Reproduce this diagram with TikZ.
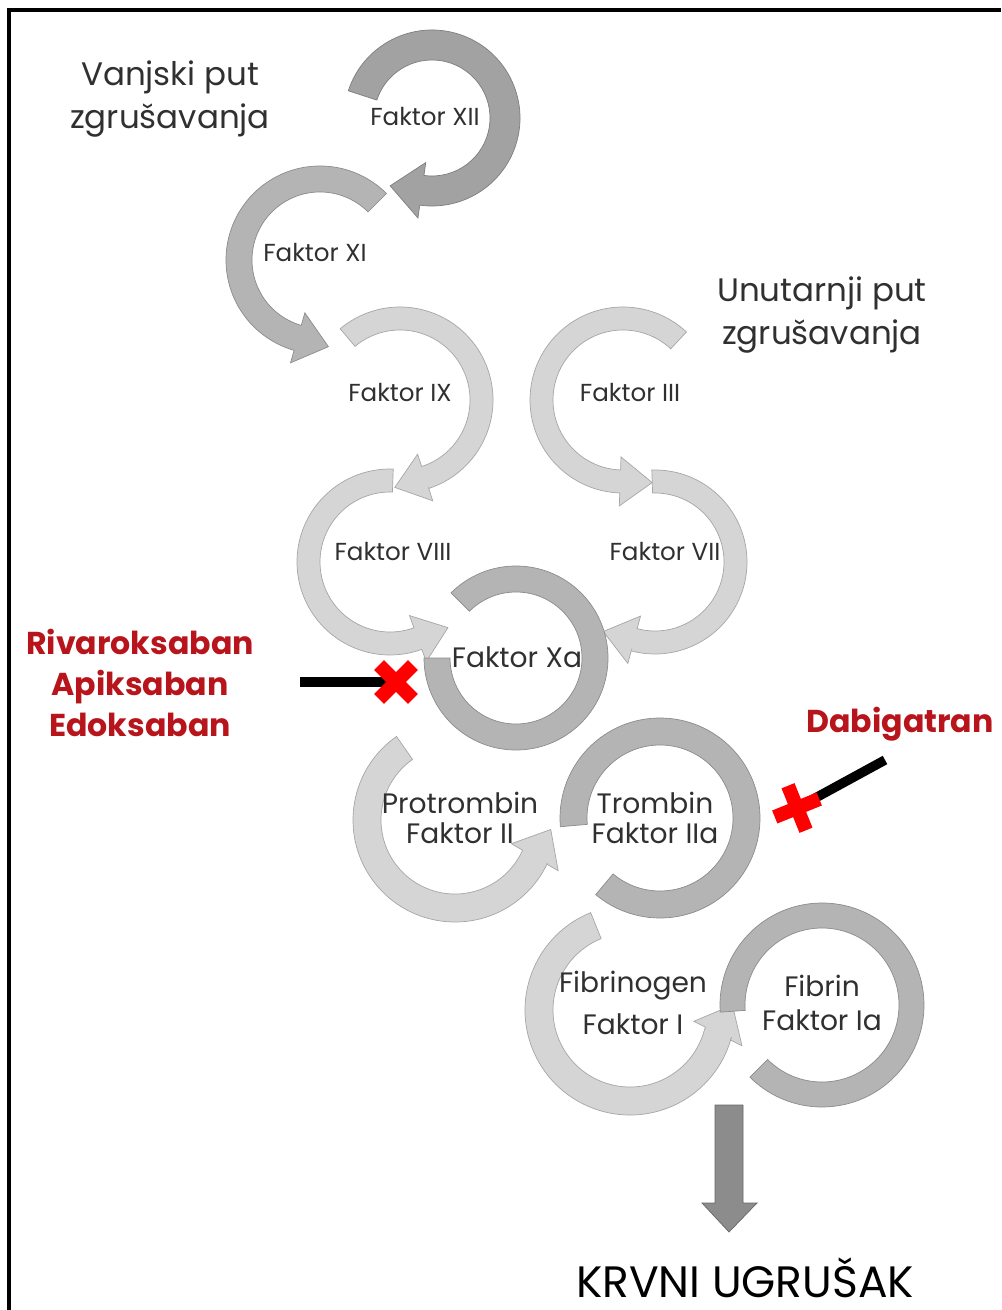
\documentclass[tikz,border=0pt]{standalone}
\usepackage{fontspec}
\setmainfont{Poppins}
\usepackage{tikz}
\usetikzlibrary{calc}

\definecolor{ringdark}{HTML}{A2A2A2}
\definecolor{ringmid}{HTML}{B4B4B4}
\definecolor{ringlight}{HTML}{D5D5D5}
\definecolor{ringXa}{HTML}{B4B4B4}
\definecolor{drugred}{HTML}{B8141C}
\definecolor{labelgray}{HTML}{303030}

% ring with arrow head: centre, r in, r out, start, end, dir (1 ccw / -1 cw), colour, straight part, turn of head
\newcommand{\ringarrow}[9]{%
  \pgfmathsetmacro{\rmid}{(#2+#3)/2}%
  \pgfmathsetmacro{\hb}{(#3-#2)/2}%
  \pgfmathsetmacro{\hw}{(#3-#2)/2+13}%
  \pgfmathsetmacro{\ta}{#5+#6*90+#9}%
  \pgfmathsetmacro{\na}{\ta-#6*90}%
  \pgfmathsetmacro{\mx}{\rmid*cos(#5)+#8*cos(\ta)}%
  \pgfmathsetmacro{\my}{\rmid*sin(#5)+#8*sin(\ta)}%
  \pgfmathsetmacro{\pox}{\mx+\hb*cos(\na)}\pgfmathsetmacro{\poy}{\my+\hb*sin(\na)}%
  \pgfmathsetmacro{\pix}{\mx-\hb*cos(\na)}\pgfmathsetmacro{\piy}{\my-\hb*sin(\na)}%
  \pgfmathsetmacro{\wox}{\mx+\hw*cos(\na)}\pgfmathsetmacro{\woy}{\my+\hw*sin(\na)}%
  \pgfmathsetmacro{\wix}{\mx-\hw*cos(\na)}\pgfmathsetmacro{\wiy}{\my-\hw*sin(\na)}%
  \pgfmathsetmacro{\tipx}{\mx+32*cos(\ta)}\pgfmathsetmacro{\tipy}{\my+32*sin(\ta)}%
  \filldraw[fill=#7, draw=#7!78!black, line width=0.4pt, shift={(#1)}]
    (#4:#3) arc[start angle=#4, end angle=#5, radius=#3]
    -- (\pox,\poy) -- (\wox,\woy) -- (\tipx,\tipy) -- (\wix,\wiy) -- (\pix,\piy) -- (#5:#2)
    arc[start angle=#5, end angle=#4, radius=#2] -- cycle;
}
% ring without arrow head: centre, r in, r out, start, end, colour
\newcommand{\ringband}[6]{%
  \filldraw[fill=#6, draw=#6!78!black, line width=0.4pt, shift={(#1)}]
    (#4:#3) arc[start angle=#4, end angle=#5, radius=#3]
    -- (#5:#2) arc[start angle=#5, end angle=#4, radius=#2] -- cycle;
}

\tikzset{xmark/.pic={\draw[red, line width=0.28cm] (-24,0) -- (24,0) (0,-24) -- (0,24);}}

\begin{document}
\begin{tikzpicture}[x=0.02cm, y=0.02cm,
    factor/.style={text=labelgray, align=center, inner sep=0pt, font=\fontsize{14}{17}\selectfont},
    bigfactor/.style={text=labelgray, align=center, inner sep=0pt, font=\fontsize{16}{17}\selectfont},
    pathway/.style={text=labelgray, align=center, inner sep=0pt, font=\fontsize{18.5}{24}\selectfont},
    drug/.style={text=drugred, align=center, inner sep=0pt, font=\bfseries\fontsize{18}{23.5}\selectfont},
    inhib/.style={line width=0.19cm, black}]
  \useasboundingbox (0,0) rectangle (1001,-1310);
  \draw[line width=0.08cm] (9,-1310) -- (9,-10) -- (1001,-10); % frame

  \coordinate (cXII) at (432,-118);
  \coordinate (cXI) at (320,-260);
  \coordinate (cIX) at (400,-400);
  \coordinate (cIII) at (623,-400);
  \coordinate (cVIII) at (390,-562);
  \coordinate (cVII) at (655,-562);
  \coordinate (cXa) at (516,-658);
  \coordinate (cII) at (455,-820);
  \coordinate (cIIa) at (660,-818);
  \coordinate (cI) at (630,-1010);
  \coordinate (cIa) at (822,-1005);

  \ringarrow{cXII}{58}{88}{162}{-98}{-1}{ringdark}{0}{0}
  \ringarrow{cXI}{68}{94}{45}{254}{1}{ringmid}{0}{0}
  \ringarrow{cIX}{70}{93}{130}{-72}{-1}{ringlight}{0}{0}
  \ringarrow{cIII}{70}{93}{47}{268}{1}{ringlight}{0}{0}
  \ringarrow{cVIII}{70}{93}{88}{290}{1}{ringlight}{0}{0}
  \ringarrow{cVII}{69}{92}{92}{-105}{-1}{ringlight}{0}{0}
  \ringband{cXa}{66}{92}{135}{-180}{ringXa}

  \ringarrow{cII}{74}{102}{125}{335}{1}{ringlight}{0}{-5}
  \ringband{cIIa}{73}{100}{185}{-130}{ringXa}
  \ringarrow{cI}{77}{105}{112}{345}{1}{ringlight}{0}{-12}
  \ringband{cIa}{77}{102}{184}{-135}{ringXa}

  % labels
  \node[pathway] (vanjski) at (170,-99) {Vanjski put\\zgrušavanja};
  \node[pathway] (unutarnji) at (822,-315) {Unutarnji put\\zgrušavanja};

  \node[factor] (fXII) at (425,-117) {Faktor XII};
  \node[factor] (fXI) at (315,-253) {Faktor XI};
  \node[factor] (fIX) at (400,-393) {Faktor IX};
  \node[factor] (fIII) at (630,-393) {Faktor III};
  \node[factor] (fVIII) at (393,-552) {Faktor VIII};
  \node[factor] (fVII) at (665,-552) {Faktor VII};
  \node[bigfactor] (fXa) at (517,-657) {Faktor Xa};
  \node[bigfactor] (fII) at (460,-818) {Protrombin\\Faktor II};
  \node[bigfactor] (fIIa) at (655,-818) {Trombin\\Faktor IIa};
  \node[bigfactor, font=\fontsize{16}{24}\selectfont] (fI) at (633,-1003) {Fibrinogen\\Faktor I};
  \node[bigfactor, font=\fontsize{16}{19}\selectfont] (fIa) at (822,-1003) {Fibrin\\Faktor Ia};

  % down arrow
  \filldraw[fill=black!45, draw=black!60, line width=0.4pt] (715,-1105) -- (743,-1105) -- (743,-1203) -- (757,-1203)
    -- (729,-1232) -- (702,-1203) -- (715,-1203) -- cycle;
  \node[text=black, inner sep=0pt, anchor=base, font=\fontsize{25}{28}\selectfont] (ugrusak) at (745,-1297) {KRVNI UGRUŠAK};

  % inhibitors
  \node[drug] (xaban) at (140,-683) {Rivaroksaban\\Apiksaban\\Edoksaban};
  \node[drug] (dabi) at (900,-724) {Dabigatran};
  \coordinate (tailXa) at (300,-682);
  \coordinate (tailIIa) at (885,-760);
  \coordinate (xXa) at (396,-682);
  \coordinate (xIIa) at (797,-808);
  \draw[inhib] (tailXa) -- (xXa);
  \draw[inhib] (tailIIa) -- (xIIa);
  \pic[rotate=45] at (xXa) {xmark};
  \pic[rotate=22] at (xIIa) {xmark};
\end{tikzpicture}
\end{document}
